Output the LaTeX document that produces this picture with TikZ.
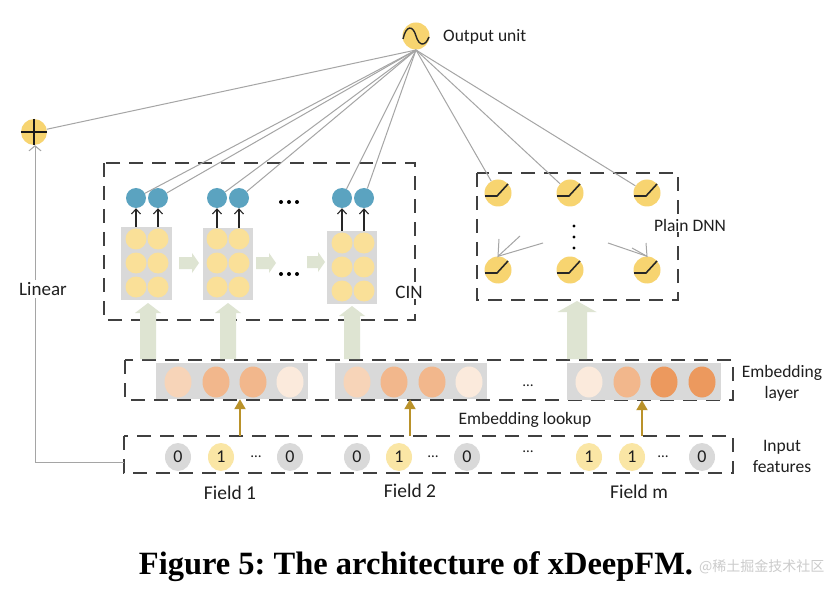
\documentclass[tikz,border=0pt]{standalone}
\usepackage{fontspec}
\setmainfont{Carlito}
\newfontfamily\capfont{Liberation Serif}
\newfontfamily\cjkfont{Noto Sans CJK SC}
\usetikzlibrary{arrows.meta,calc,shapes.geometric}
\frenchspacing
\definecolor{dashc}{RGB}{64,64,64}
\definecolor{linec}{RGB}{165,165,165}
\definecolor{bluec}{RGB}{91,163,192}
\definecolor{pyel}{RGB}{250,224,152}
\definecolor{syel}{RGB}{247,212,112}
\definecolor{boxg}{RGB}{217,217,217}
\definecolor{sage}{RGB}{222,228,210}
\definecolor{goldc}{RGB}{186,146,42}
\definecolor{inyel}{RGB}{250,230,165}
\definecolor{ingray}{RGB}{217,217,217}
\definecolor{ea}{RGB}{247,212,184}
\definecolor{eb}{RGB}{242,183,140}
\definecolor{ec}{RGB}{251,234,220}
\definecolor{ed}{RGB}{236,153,94}
\newcommand{\sageUp}[6]{\fill[sage] ({#1-#5},#4) -- ({#1-#5},#3) -- ({#1-#6},#3) -- (#1,#2) -- ({#1+#6},#3) -- ({#1+#5},#3) -- ({#1+#5},#4) -- cycle;}
\newcommand{\sageRight}[6]{\fill[sage] (#2,{#1-#5}) -- (#3,{#1-#5}) -- (#3,{#1-#6}) -- (#4,#1) -- (#3,{#1+#6}) -- (#3,{#1+#5}) -- (#2,{#1+#5}) -- cycle;}
\begin{document}
\begin{tikzpicture}[x=1pt,y=-1pt,
  dbox/.style={draw=dashc, line width=1.4pt, dash pattern=on 14pt off 9pt},
  gline/.style={draw=linec, line width=1pt},
  bnode/.style={circle, inner sep=0, minimum size=20pt, fill=bluec},
  ynode/.style={circle, inner sep=0, minimum size=21pt, fill=pyel},
  unit/.style={circle, inner sep=0, minimum size=27pt, fill=syel},
  grect/.style={fill=boxg, inner sep=0},
  lbl/.style={font=\fontsize{17.5}{21}\selectfont, text=black!88, inner sep=1pt},
  embn/.style={ellipse, inner sep=0, minimum width=27pt, minimum height=31pt},
  inn/.style={ellipse, inner sep=0, minimum width=26pt, minimum height=28pt, font=\fontsize{18}{20}\selectfont, text=black!88},
  barrow/.style={draw=black!85, line width=1.1pt, -{Straight Barb[length=5pt,width=9pt]}},
  goldarrow/.style={draw=goldc, line width=2pt, -{Triangle[length=10pt,width=11pt]}},
  dotc/.style={circle, fill=black, inner sep=0, minimum size=4pt}
]
\useasboundingbox[fill=white] (0,0) rectangle (838,596);

% ---------- dashed boxes ----------
\draw[dbox] (104,163) rectangle (415,320);
\draw[dbox] (477,173) rectangle (678,300);
\draw[dbox] (125,360) rectangle (733,400);
\draw[dbox] (124,436) rectangle (733,473);

% ---------- output unit, plus ----------
\node[unit] (out) at (416,36) {};
\draw[line width=1.4pt, black!85] ($(out)+(-13,3)$) .. controls ($(out)+(-10,-11)$) and ($(out)+(-3,-11)$) .. ($(out)+(0,0)$) .. controls ($(out)+(3,10)$) and ($(out)+(9,11)$) .. ($(out)+(13,1)$);
\node[lbl, anchor=west] (outlbl) at (442,37) {Output unit};
\coordinate (hub) at (416,50);

\node[unit, minimum size=26pt] (plus) at (34,132) {};
\draw[line width=1.5pt, black!90] (plus.west) -- (plus.east);
\draw[line width=1.5pt, black!90] (plus.north) -- (plus.south);

% ---------- CIN ----------
\node[grect, minimum width=51pt, minimum height=73pt] (r1) at (146.5,263.5) {};
\node[grect, minimum width=50pt, minimum height=72pt] (r2) at (228,264) {};
\node[grect, minimum width=50pt, minimum height=73pt] (r3) at (352,267.5) {};

\foreach \c/\x in {1/136,2/158}{
  \foreach \r/\y in {1/239,2/263,3/287}{ \node[ynode] (ya\c\r) at (\x,\y) {}; }}
\foreach \c/\x in {1/217,2/239}{
  \foreach \r/\y in {1/239,2/263,3/287}{ \node[ynode] (yb\c\r) at (\x,\y) {}; }}
\foreach \c/\x in {1/342,2/364}{
  \foreach \r/\y in {1/243,2/267,3/291}{ \node[ynode] (yc\c\r) at (\x,\y) {}; }}

\node[bnode] (b11) at (136,198) {};
\node[bnode] (b12) at (158,198) {};
\node[bnode] (b21) at (217,198) {};
\node[bnode] (b22) at (239,198) {};
\node[bnode] (b31) at (342,198) {};
\node[bnode] (b32) at (364,198) {};

\draw[barrow] (b11 |- r1.north) -- (b11.south);
\draw[barrow] (b12 |- r1.north) -- (b12.south);
\draw[barrow] (b21 |- r2.north) -- (b21.south);
\draw[barrow] (b22 |- r2.north) -- (b22.south);
\draw[barrow] (b31 |- r3.north) -- (b31.south);
\draw[barrow] (b32 |- r3.north) -- (b32.south);

\sageRight{263}{179}{192}{199}{6}{10}
\sageRight{263}{256}{269}{276}{6}{10}
\sageRight{262}{307}{318}{325}{6}{10}

\node[dotc] (cd1) at (281,202) {};
\node[dotc] (cd2) at (289,202) {};
\node[dotc] (cd3) at (297,202) {};
\node[dotc] (ce1) at (281,274) {};
\node[dotc] (ce2) at (289,274) {};
\node[dotc] (ce3) at (297,274) {};

\node[lbl, font=\fontsize{19}{22}\selectfont, fill=white, inner sep=1pt] (cinlbl) at (409,292) {CIN};

% ---------- DNN ----------
\node[unit] (d11) at (498,193) {};
\node[unit] (d12) at (570,193) {};
\node[unit] (d13) at (647,193) {};
\node[unit] (d21) at (498,270) {};
\node[unit] (d22) at (570,270) {};
\node[unit] (d23) at (647,270) {};
\foreach \n in {d11,d12,d13,d21,d22,d23}{
  \draw[line width=1.6pt, black!85] ($(\n)+(-13,3)$) -- ($(\n)+(-1,3)$) -- ($(\n)+(10,-9)$);
}
\node[circle, fill=black, inner sep=0, minimum size=3.2pt] (dd1) at (574,226) {};
\node[circle, fill=black, inner sep=0, minimum size=3.2pt] (dd2) at (574,237) {};
\node[circle, fill=black, inner sep=0, minimum size=3.2pt] (dd3) at (574,248) {};

\coordinate (la) at (543,243);
\coordinate (ra) at (608,243);
\coordinate (laA) at (499,239);
\coordinate (laB) at (520,236);
\coordinate (raA) at (646,243);
\coordinate (raB) at (632,248);
\draw[gline] (la) -- (d21.north);
\draw[gline] (laA) -- (d21.north) -- (laB);
\draw[gline] (ra) -- (d23.north);
\draw[gline] (raA) -- (d23.north) -- (raB);

\node[lbl, fill=white, inner sep=1pt] (dnnlbl) at (690,225) {Plain DNN};

% ---------- connectors to output ----------
\foreach \n in {b11,b12,b21,b22,b31,b32,d11,d12,d13,plus}{
  \draw[gline] (hub) -- (\n);
}

% ---------- big sage arrows ----------
\sageUp{148}{303}{313}{359}{8}{13}
\sageUp{228}{303}{313}{359}{8}{13}
\sageUp{352}{306}{316}{359}{8}{13}
\sageUp{577}{301}{312}{359}{10}{19.5}

% ---------- embedding layer ----------
\node[grect, minimum width=152pt, minimum height=36pt] (e1) at (232,381) {};
\node[grect, minimum width=152pt, minimum height=36pt] (e2) at (411,381) {};
\node[grect, minimum width=154pt, minimum height=37pt] (e3) at (644,381.5) {};
\node[embn, fill=ea] (e11) at (178,382) {};
\node[embn, fill=eb] (e12) at (216,382) {};
\node[embn, fill=eb] (e13) at (253,382) {};
\node[embn, fill=ec] (e14) at (290,382) {};
\node[embn, fill=ea] (e21) at (357,382) {};
\node[embn, fill=eb] (e22) at (394,382) {};
\node[embn, fill=eb] (e23) at (432,382) {};
\node[embn, fill=ec] (e24) at (469,382) {};
\node[embn, fill=ec] (e31) at (589,382) {};
\node[embn, fill=eb] (e32) at (627,382) {};
\node[embn, fill=ed] (e33) at (664,382) {};
\node[embn, fill=ed] (e34) at (702,382) {};
\node[lbl, font=\fontsize{15}{18}\selectfont] (edots) at (528,386) {…};

\node[lbl, align=center, font=\fontsize{17.5}{21}\selectfont] (emblbl) at (782,383) {Embedding\\layer};
\node[lbl] (looklbl) at (525,420) {Embedding lookup};

% ---------- input features ----------
\node[inn, fill=ingray] (i11) at (178,457) {0};
\node[inn, fill=inyel]  (i12) at (221,457) {1};
\node[lbl, font=\fontsize{15}{18}\selectfont] (i1d) at (256,457) {…};
\node[inn, fill=ingray] (i13) at (290,457) {0};
\node[inn, fill=ingray] (i21) at (357,457) {0};
\node[inn, fill=inyel]  (i22) at (399,457) {1};
\node[lbl, font=\fontsize{15}{18}\selectfont] (i2d) at (433,457) {…};
\node[inn, fill=ingray] (i23) at (467,457) {0};
\node[lbl, font=\fontsize{15}{18}\selectfont] (ifd) at (528,452) {…};
\node[inn, fill=inyel]  (i31) at (589,457) {1};
\node[inn, fill=inyel]  (i32) at (632,457) {1};
\node[lbl, font=\fontsize{15}{18}\selectfont] (i3d) at (663,457) {…};
\node[inn, fill=ingray] (i33) at (702,457) {0};

\node[lbl, align=center] (inlbl) at (782,456) {Input\\features};

\coordinate (g1) at (240,436);
\coordinate (g2) at (410,436);
\coordinate (g3) at (642,436);
\draw[goldarrow] (g1) -- (g1 |- e1.south);
\draw[goldarrow] (g2) -- (g2 |- e2.south);
\draw[goldarrow] (g3) -- (g3 |- e3.south);

\node[lbl, font=\fontsize{19.5}{22}\selectfont] (f1) at (230,493) {Field 1};
\node[lbl, font=\fontsize{19.5}{22}\selectfont] (f2) at (410,491) {Field 2};
\node[lbl, font=\fontsize{19.5}{22}\selectfont] (fm) at (639,492) {Field m};

% ---------- linear ----------
\coordinate (linS) at (124,462);
\coordinate (linC) at (35,462);
\draw[gline, -{Straight Barb[length=5pt,width=12pt]}] (linS) -- (linC) -- (linC |- plus.south);
\node[lbl, font=\fontsize{19}{22}\selectfont, fill=white, inner sep=2pt] (linlbl) at (43,289) {Linear};

% ---------- caption ----------
\node[font=\capfont\bfseries\fontsize{32.5}{36}\selectfont, anchor=base, inner sep=0] (cap) at (416,574) {Figure 5: The architecture of xDeepFM.};
\node[font=\cjkfont\fontsize{14}{17}\selectfont, text=gray!50, opacity=0.8, anchor=base west, inner sep=0] (wm) at (699,571) {@稀土掘金技术社区};
\end{tikzpicture}
\end{document}
